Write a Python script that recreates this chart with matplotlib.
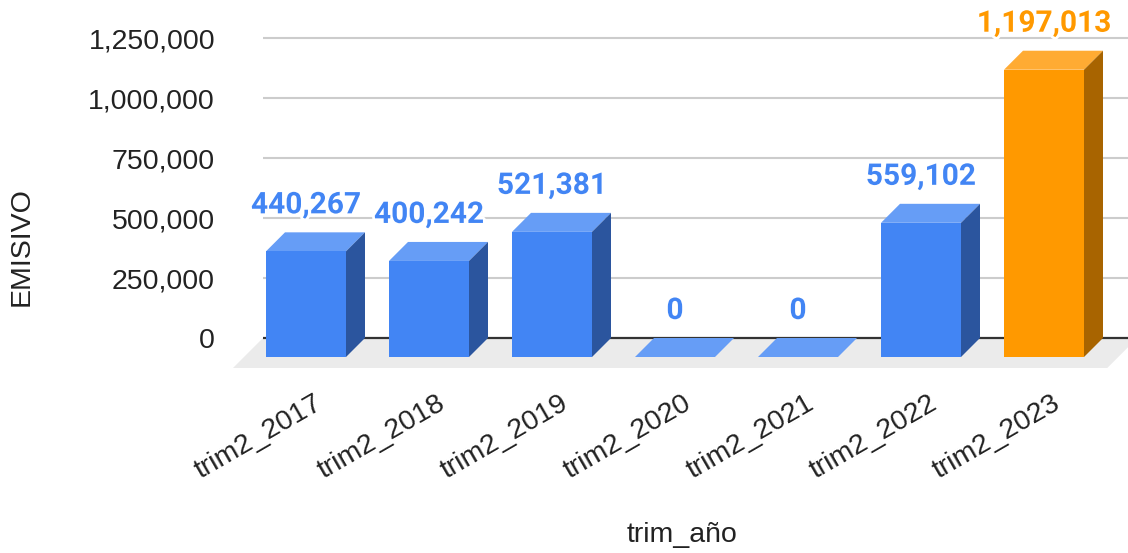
# -*- coding: utf-8 -*-
import numpy as np
import matplotlib
matplotlib.use('Agg')
import matplotlib.pyplot as plt
from matplotlib.patches import Polygon
import matplotlib.patheffects as pe
from matplotlib.ticker import FuncFormatter

# data
categorias = ['trim2_2017', 'trim2_2018', 'trim2_2019', 'trim2_2020',
              'trim2_2021', 'trim2_2022', 'trim2_2023']
emisivo = [440267, 400242, 521381, 0, 0, 559102, 1197013]
resaltado = [False, False, False, False, False, False, True]

# pixel geometry of the pseudo 3D look
W, H = 1128, 553
px_val = 1e6 / 240.0          # value units per pixel (vertical)
px_cat = 1 / 123.0            # category units per pixel (horizontal)
dx = 19 * px_cat              # depth offset in x
dy = 19 * px_val              # depth offset in y
bw = 80 * px_cat              # bar width
floor_dx = 30 * px_cat
floor_dy = 30 * px_val

fig = plt.figure(figsize=(W / 100, H / 100), dpi=100)
left_px, right_px, top_px, bot_px = 263, 1128, 20, 368
ax = fig.add_axes([left_px / W, 1 - bot_px / H, (right_px - left_px) / W, (bot_px - top_px) / H])

x0_px = 325  # back-plane centre of first category
ax.set_xlim((left_px - x0_px) * px_cat, (right_px - x0_px) * px_cat)
ax.set_ylim((338 - bot_px) * px_val, (338 - top_px) * px_val)

for s in ax.spines.values():
    s.set_visible(False)

# gridlines
ticks = np.arange(0, 1250001, 250000)
ax.set_yticks(ticks)
ax.yaxis.set_major_formatter(FuncFormatter(lambda v, p: f'{int(v):,}'))
ax.tick_params(axis='y', length=0, pad=34.5, labelsize=20.5, labelcolor='#222222')
for t in ticks[1:]:
    ax.axhline(t, color='#cccccc', lw=1.5, zorder=0)

# floor
xl = ax.get_xlim()[0]
floor = Polygon([(xl - floor_dx, -floor_dy), (len(categorias) - 1 + 0.31 + 0.05, -floor_dy),
                 (len(categorias) - 1 + 0.31 + 0.05 + floor_dx, 0), (xl, 0)],
                closed=True, facecolor='#ebebeb', edgecolor='none', zorder=1, clip_on=False)
ax.add_patch(floor)
ax.axhline(0, color='#333333', lw=1.6, zorder=2)

azul = ('#4285f4', '#669df6', '#2b559e')
naranja = ('#ff9900', '#ffab33', '#a86400')

for i, (v, hl) in enumerate(zip(emisivo, resaltado)):
    front, top, side = naranja if hl else azul
    xa = i - dx - bw / 2
    xb = i - dx + bw / 2
    ax.add_patch(Polygon([(xa, v - dy), (xb, v - dy), (xb + dx, v), (xa + dx, v)],
                         closed=True, facecolor=top, edgecolor='none', zorder=3))
    if v > 0:
        ax.add_patch(Polygon([(xa, -dy), (xb, -dy), (xb, v - dy), (xa, v - dy)],
                             closed=True, facecolor=front, edgecolor='none', zorder=4))
        ax.add_patch(Polygon([(xb, -dy), (xb + dx, 0), (xb + dx, v), (xb, v - dy)],
                             closed=True, facecolor=side, edgecolor='none', zorder=4))
    ax.text(i - dx, v + 27 * px_val, f'{v:,}', ha='center', va='center',
            fontsize=21.5, fontweight='bold', family='Roboto',
            color=front, zorder=6, clip_on=False,
            path_effects=[pe.withStroke(linewidth=4, foreground='white')])

# x axis labels
ax.set_xticks(np.arange(len(categorias)) - 0.09)
ax.set_xticklabels(categorias, rotation=30, ha='right', rotation_mode='anchor')
ax.tick_params(axis='x', length=0, pad=16, labelsize=20.5, labelcolor='#222222')

ax.set_xlabel('trim_año', fontsize=20.5, color='#222222')
ax.xaxis.set_label_coords((682 - left_px) / (right_px - left_px), -(535 - bot_px) / (bot_px - top_px))
ax.xaxis.label.set_va('center')
ax.set_ylabel('EMISIVO', fontsize=20.5, color='#222222')
ax.yaxis.set_label_coords(-(263 - 22) / (right_px - left_px), (bot_px - 247) / (bot_px - top_px))
ax.yaxis.label.set_va('center')

for lab in ax.get_xticklabels() + ax.get_yticklabels():
    lab.set_family('Liberation Sans')
ax.xaxis.label.set_family('Liberation Sans')
ax.yaxis.label.set_family('Liberation Sans')

plt.savefig('out.png', dpi=100)
